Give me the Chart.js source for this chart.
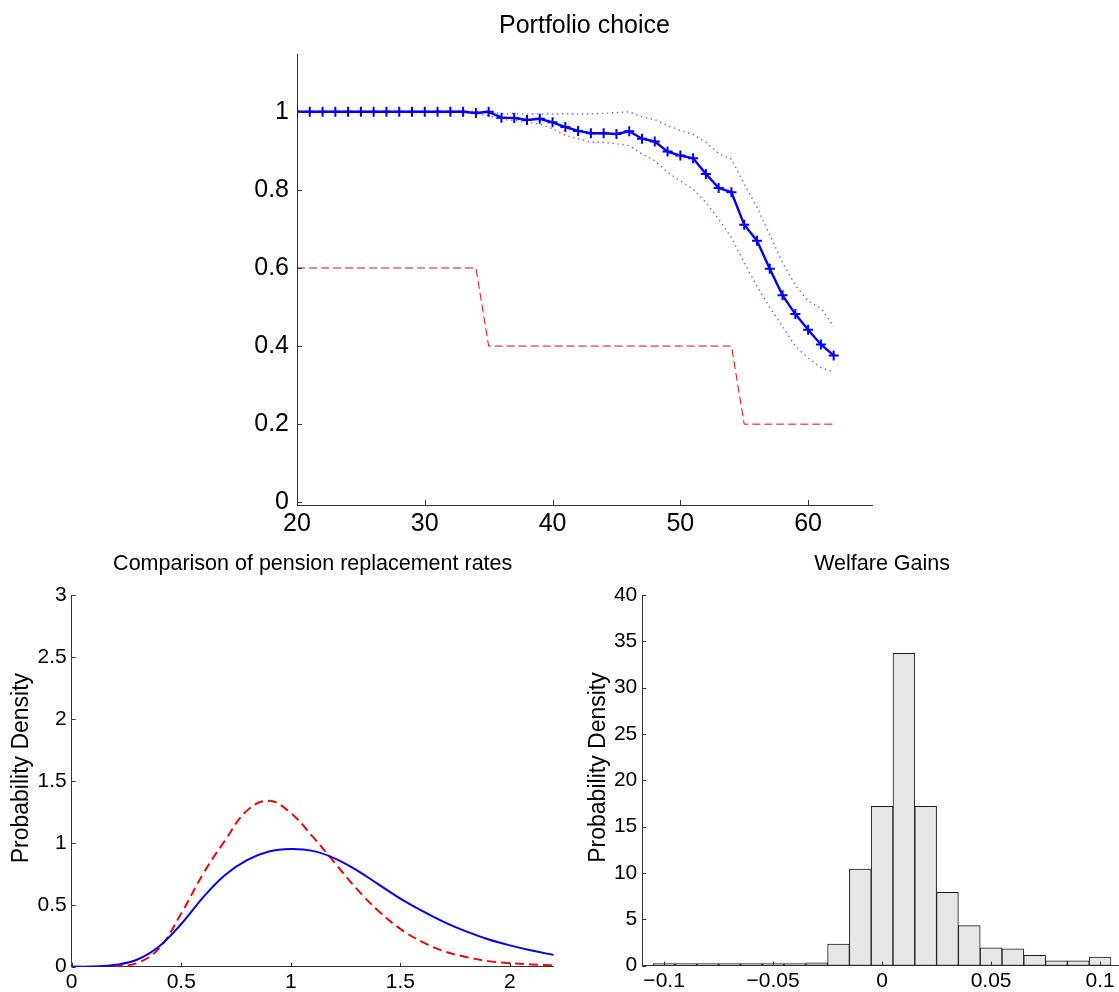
<!DOCTYPE html>
<html lang="en">
<head>
<meta charset="UTF-8">
<title>Portfolio choice</title>
<style>
    html, body {
        margin: 0;
        padding: 0;
        background: #fff;
        overflow: hidden;
    }
    body {
        position: relative;
        width: 1119px;
        height: 992px;
    }
    canvas {
        position: absolute;
    }
    #portfolio { left: 0; top: 0; }
    #pension { left: 0; top: 540px; }
    #welfare { left: 560px; top: 540px; }
</style>
</head>
<body>

<canvas id="portfolio" width="1119" height="545"></canvas>
<canvas id="pension" width="560" height="452"></canvas>
<canvas id="welfare" width="570" height="452"></canvas>

<script src="https://cdn.jsdelivr.net/npm/chart.js"></script>
<script>
    // Portfolio choice: share in risky assets by age
    const ages = [20, 21, 22, 23, 24, 25, 26, 27, 28, 29, 30, 31, 32, 33, 34, 35, 36, 37, 38, 39, 40,
                  41, 42, 43, 44, 45, 46, 47, 48, 49, 50, 51, 52, 53, 54, 55, 56, 57, 58, 59, 60, 61, 62];
    const equityShare = [1, 1, 1, 1, 1, 1, 1, 1, 1, 1, 1, 1, 1, 1,
                         0.997, 1.0, 0.985, 0.984, 0.979, 0.982, 0.973, 0.961, 0.951, 0.945,
                         0.945, 0.943, 0.950, 0.931, 0.924, 0.898, 0.888, 0.881, 0.841, 0.805,
                         0.794, 0.711, 0.670, 0.598, 0.530, 0.482, 0.442, 0.404, 0.376];
    const equityUpper = [1, 1, 1, 1, 1, 1, 1, 1, 1, 1, 1, 1, 1, 1,
                         1.0, 1.0, 0.995, 0.995, 0.994, 0.995, 0.994, 0.995, 0.994, 0.995,
                         0.996, 0.998, 1.0, 0.987, 0.980, 0.965, 0.952, 0.942, 0.922, 0.893,
                         0.879, 0.815, 0.755, 0.685, 0.613, 0.556, 0.515, 0.497, 0.450];
    const equityLower = [1, 1, 1, 1, 1, 1, 1, 1, 1, 1, 1, 1, 1, 1,
                         0.995, 0.99, 0.98, 0.978, 0.973, 0.968, 0.957, 0.940, 0.931, 0.922,
                         0.922, 0.918, 0.913, 0.892, 0.875, 0.845, 0.823, 0.802, 0.768, 0.725,
                         0.678, 0.614, 0.553, 0.499, 0.45, 0.40, 0.37, 0.345, 0.333];
    const ruleOfThumb = [0.6, 0.6, 0.6, 0.6, 0.6, 0.6, 0.6, 0.6, 0.6, 0.6, 0.6, 0.6, 0.6, 0.6, 0.6,
                         0.4, 0.4, 0.4, 0.4, 0.4, 0.4, 0.4, 0.4, 0.4, 0.4,
                         0.4, 0.4, 0.4, 0.4, 0.4, 0.4, 0.4, 0.4, 0.4, 0.4,
                         0.2, 0.2, 0.2, 0.2, 0.2, 0.2, 0.2, 0.2];

    // Comparison of pension replacement rates (densities)
    const replacementRate = [0, 0.1, 0.2, 0.3, 0.4, 0.5, 0.6, 0.7, 0.8, 0.9, 1.0, 1.1,
                             1.2, 1.3, 1.4, 1.5, 1.6, 1.7, 1.8, 1.9, 2.0, 2.1, 2.2];
    const densitySolid = [0, 0.002, 0.015, 0.058, 0.165, 0.345, 0.56, 0.74, 0.86, 0.93, 0.95, 0.935,
                          0.875, 0.78, 0.665, 0.55, 0.45, 0.36, 0.285, 0.222, 0.172, 0.13, 0.095];
    const densityDashed = [0, 0, 0.004, 0.03, 0.15, 0.43, 0.75, 1.02, 1.26, 1.34, 1.24, 1.05,
                           0.84, 0.63, 0.45, 0.305, 0.2, 0.125, 0.078, 0.045, 0.028, 0.018, 0.012];

    // Welfare gains histogram (bin centres and densities)
    const gainBins = [-0.1, -0.09, -0.08, -0.07, -0.06, -0.05, -0.04, -0.03, -0.02, -0.01, 0,
                      0.01, 0.02, 0.03, 0.04, 0.05, 0.06, 0.07, 0.08, 0.09, 0.1];
    const gainDensity = [0, 0, 0, 0, 0, 0, 0, 0.28, 2.3, 10.4, 17.2,
                         33.7, 17.2, 7.9, 4.3, 1.9, 1.8, 1.1, 0.5, 0.5, 0.9];

    Chart.defaults.font.family = '"Liberation Sans", Arial, Helvetica, sans-serif';
    Chart.defaults.color = '#000';
    Chart.defaults.animation = false;

    const AXIS = '#333';
    const fmt = v => String(Math.round(v * 1000) / 1000).replace('-', '\u2212');
    const pts = (xs, ys) => xs.map((x, i) => ({ x: x, y: ys[i] }));

    // matlab style ticks pointing into the plot
    const inwardTicks = {
        id: 'inwardTicks',
        afterDatasetsDraw(chart, args, opts) {
            const { ctx, scales: { x, y } } = chart;
            const len = opts.length || 5;
            ctx.save();
            ctx.strokeStyle = AXIS;
            ctx.lineWidth = 1;
            ctx.beginPath();
            x.ticks.forEach(t => {
                const px = Math.round(x.getPixelForValue(t.value)) + 0.5;
                ctx.moveTo(px, x.top);
                ctx.lineTo(px, x.top - len);
            });
            y.ticks.forEach(t => {
                const py = Math.round(y.getPixelForValue(t.value)) + 0.5;
                ctx.moveTo(y.right, py);
                ctx.lineTo(y.right + len, py);
            });
            ctx.stroke();
            ctx.restore();
        }
    };

    function axis(min, max, step, size, pad, fixed, isX) {
        return {
            type: 'linear',
            min: min,
            max: max,
            offset: false,
            grid: { display: false, drawTicks: false },
            border: { display: true, color: AXIS, width: 1 },
            ticks: { stepSize: step, includeBounds: false, padding: pad, font: { size: size }, callback: fmt, maxRotation: 0, autoSkip: false },
            afterFit: s => { if (isX) s.height = fixed; else s.width = fixed; }
        };
    }

    // Top: portfolio choice
    new Chart(document.getElementById('portfolio'), {
        type: 'line',
        data: {
            datasets: [
                {
                    data: pts(ages, equityShare),
                    borderColor: '#0000ff',
                    borderWidth: 2.4,
                    pointStyle: 'cross',
                    pointRadius: 5,
                    pointBorderWidth: 2,
                    pointBorderColor: '#0000ff',
                    tension: 0
                },
                {
                    data: pts(ages, equityUpper),
                    borderColor: 'rgba(30, 30, 255, 0.7)',
                    borderWidth: 1.4,
                    borderDash: [1.4, 3.6],
                    pointRadius: 0,
                    tension: 0
                },
                {
                    data: pts(ages, equityLower),
                    borderColor: 'rgba(30, 30, 255, 0.7)',
                    borderWidth: 1.4,
                    borderDash: [1.4, 3.6],
                    pointRadius: 0,
                    tension: 0
                },
                {
                    data: pts(ages, ruleOfThumb),
                    borderColor: '#ff0000',
                    borderWidth: 1,
                    borderDash: [8, 4],
                    pointRadius: 0,
                    tension: 0
                }
            ]
        },
        options: {
            responsive: false,
            devicePixelRatio: 1,
            layout: { padding: { left: 0, right: 247, top: 0, bottom: 0 } },
            plugins: {
                legend: { display: false },
                tooltip: { enabled: false },
                title: {
                    display: true,
                    text: 'Portfolio choice',
                    fullSize: false,
                    font: { size: 25, weight: 'normal' },
                    padding: { top: 11, bottom: 13 }
                },
                inwardTicks: { length: 5 }
            },
            scales: {
                x: axis(20, 65, 10, 25, 4, 40, true),
                y: axis(-0.007, 1.148, 0.2, 25, 8, 297, false)
            }
        },
        plugins: [inwardTicks]
    });

    // Bottom left: pension replacement rate densities
    // leading spaces nudge the rotated label up a little, like the original
    const leftY = axis(0, 3, 0.5, 21, 5, 71.7, false);
    leftY.title = { display: true, text: '    Probability Density', font: { size: 23 }, padding: { top: 8, bottom: 0 } };

    new Chart(document.getElementById('pension'), {
        type: 'line',
        data: {
            datasets: [
                {
                    data: pts(replacementRate, densitySolid),
                    borderColor: '#0000ff',
                    borderWidth: 2,
                    pointRadius: 0,
                    tension: 0.4
                },
                {
                    data: pts(replacementRate, densityDashed),
                    borderColor: '#ff0000',
                    borderWidth: 2,
                    borderDash: [9, 5],
                    pointRadius: 0,
                    tension: 0.4
                }
            ]
        },
        options: {
            responsive: false,
            devicePixelRatio: 1,
            layout: { padding: { left: 0, right: 6.3, top: 0, bottom: 0 } },
            plugins: {
                legend: { display: false },
                tooltip: { enabled: false },
                title: {
                    display: true,
                    text: 'Comparison of pension replacement rates',
                    fullSize: false,
                    font: { size: 21.5, weight: 'normal' },
                    padding: { top: 11, bottom: 18.3 }
                },
                inwardTicks: { length: 4 }
            },
            scales: {
                x: axis(0, 2.2, 0.5, 21, 3, 25.3, true),
                y: leftY
            }
        },
        plugins: [inwardTicks]
    });

    // Bottom right: welfare gains histogram
    const rightY = axis(0, 40, 5, 21, 5, 82.3, false);
    rightY.title = { display: true, text: '    Probability Density', font: { size: 23 }, padding: { top: 25, bottom: 0 } };

    new Chart(document.getElementById('welfare'), {
        type: 'bar',
        data: {
            datasets: [{
                data: pts(gainBins, gainDensity),
                backgroundColor: '#e6e6e6',
                borderColor: '#1a1a1a',
                borderWidth: 1,
                borderSkipped: false,
                barPercentage: 1,
                categoryPercentage: 1,
                minBarLength: 2
            }]
        },
        options: {
            responsive: false,
            devicePixelRatio: 1,
            layout: { padding: { left: 0, right: 8.1, top: 0, bottom: 0 } },
            plugins: {
                legend: { display: false },
                tooltip: { enabled: false },
                title: {
                    display: true,
                    text: 'Welfare Gains',
                    fullSize: false,
                    font: { size: 21.5, weight: 'normal' },
                    padding: { top: 11, bottom: 18.3 }
                },
                inwardTicks: { length: 4 }
            },
            scales: {
                x: axis(-0.11, 0.11, 0.05, 21, 3, 26.5, true),
                y: rightY
            }
        },
        plugins: [inwardTicks]
    });
</script>

</body>
</html>
